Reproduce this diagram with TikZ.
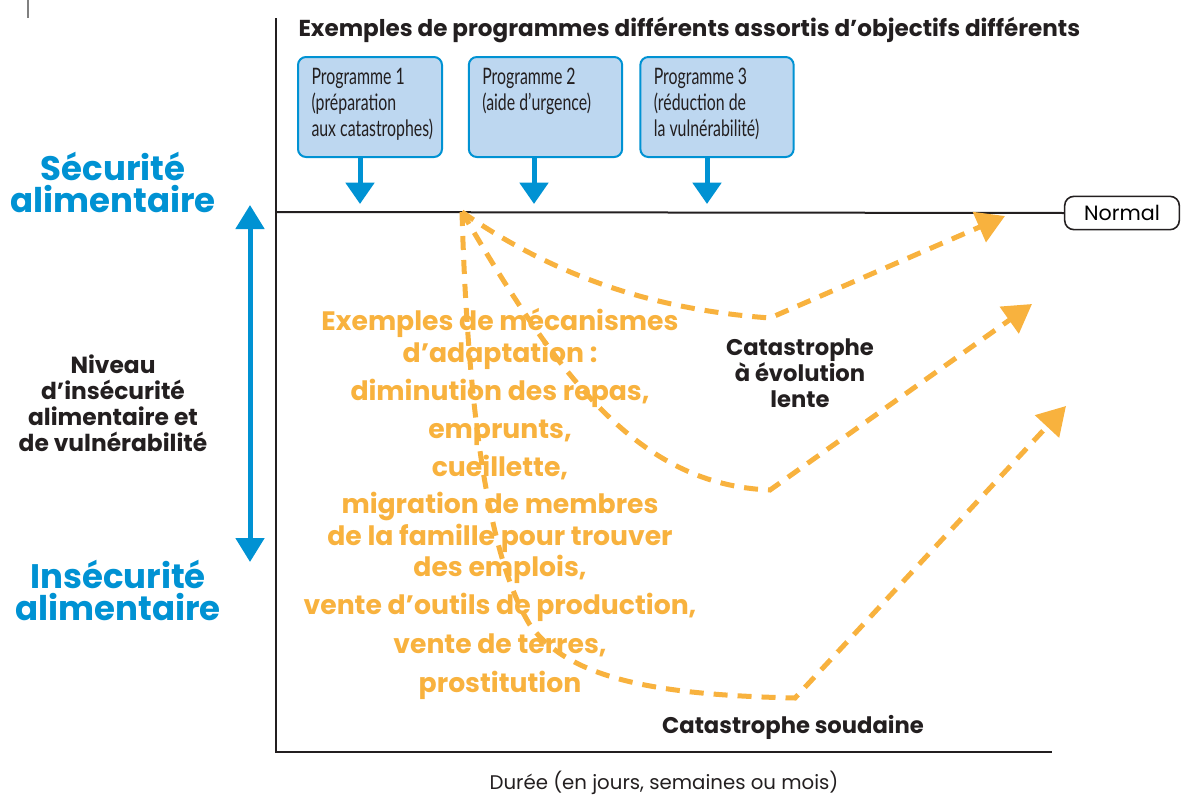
\documentclass[tikz,border=0pt]{standalone}
\usepackage{fontspec}
\setmainfont{Poppins}
\newfontfamily\condfont[FakeStretch=0.7]{Lato}
\usetikzlibrary{arrows.meta}

\definecolor{fsblue}{RGB}{0,146,211}
\definecolor{fsbox}{RGB}{189,215,240}
\definecolor{fsorange}{RGB}{248,178,62}
\definecolor{fsaxis}{RGB}{35,31,32}

\tikzset{every picture/.style={line width=0.75pt}}
\tikzset{
  progbox/.style={draw=fsblue, line width=1.5pt, fill=fsbox, rounded corners=6pt, minimum height=75pt, inner sep=0pt},
  progtext/.style={anchor=north west, inner sep=0pt, align=left, text=fsaxis, font=\condfont\fontsize{17}{19.5}\selectfont},
  downarrow/.style={draw=fsblue, line width=3.75pt, -{Triangle[length=16pt, width=21pt]}},
  levelarrow/.style={draw=fsblue, line width=3.75pt, {Triangle[length=18pt, width=21pt]}-{Triangle[length=18pt, width=21pt]}},
  copedash/.style={draw=fsorange, line width=3.75pt, dash pattern=on 10.5pt off 7.5pt, -{Triangle[length=21pt, width=24pt]}},
  mech/.style={anchor=base, inner sep=0pt, text=fsorange, font=\bfseries\fontsize{20}{22}\selectfont},
  bigblue/.style={inner sep=0pt, align=center, text=fsblue, font=\bfseries\fontsize{25.5}{24}\selectfont},
  darklabel/.style={inner sep=0pt, align=center, text=fsaxis, font=\bfseries\fontsize{17}{19.5}\selectfont}
}

\begin{document}
\begin{tikzpicture}[x=0.75pt,y=0.75pt,yscale=-1,xscale=1]
\useasboundingbox (0,0) rectangle (1185,796);

%Straight Lines (mark at top left)
\draw [draw=gray, line width=2pt] (28,0) -- (28,18) ;

%Axes
\coordinate (ytop) at (276,18);
\coordinate (origin) at (276,752);
\coordinate (xend) at (1052,752);
\draw [draw=fsaxis, line width=1.5pt] (ytop) -- (origin) -- (xend) ;

%Normal level
\node [draw=fsaxis, line width=1.2pt, rounded corners=7pt, minimum width=86pt, minimum height=25pt, inner sep=0pt, font=\fontsize{15.5}{17}\selectfont] (normal) at (1122,213) {Normal};
\coordinate (normal-start) at (276,212);
\draw [draw=fsaxis, line width=1.5pt] (normal-start) -- (normal.west) ;

% Text Node
\node [anchor=west, inner sep=0pt, text=fsaxis, font=\bfseries\fontsize{17.3}{19}\selectfont] (title) at (298,30) {Exemples de programmes différents assortis d’objectifs différents};

%Programme boxes
\node [progbox, minimum width=108pt] (prog1) at (370,107) {};
\node [progtext] (prog1-txt) at ([xshift=10.5pt,yshift=9pt]prog1.north west) {Programme 1\\(préparation\\aux catastrophes)};
\node [progbox, minimum width=115pt] (prog2) at (545.5,107) {};
\node [progtext] (prog2-txt) at ([xshift=10.5pt,yshift=9pt]prog2.north west) {Programme 2\\(aide d’urgence)};
\node [progbox, minimum width=115pt] (prog3) at (717,107) {};
\node [progtext] (prog3-txt) at ([xshift=10.5pt,yshift=9pt]prog3.north west) {Programme 3\\(réduction de\\la vulnérabilité)};

\coordinate (hit1) at (360,204);
\coordinate (hit2) at (534,204);
\coordinate (hit3) at (707,204);
\draw [downarrow] (prog1.south -| hit1) -- (hit1) ;
\draw [downarrow] (prog2.south -| hit2) -- (hit2) ;
\draw [downarrow] (prog3.south -| hit3) -- (hit3) ;

%Level arrow
\coordinate (lvl-top) at (250,205);
\coordinate (lvl-bot) at (250,562);
\draw [levelarrow] (lvl-top) -- (lvl-bot) ;

% Text Node
\node [bigblue] (secure) at (113,182) {Sécurité\\alimentaire};
% Text Node
\node [bigblue] (insecure) at (118,590) {Insécurité\\alimentaire};
% Text Node
\node [darklabel, font=\bfseries\fontsize{17.5}{19.5}\selectfont] (level) at (113,403) {Niveau\\d’insécurité\\alimentaire et\\de vulnérabilité};

%Coping curves
\coordinate (src) at (462,212);
\draw [copedash] (src) .. controls (560,280) and (660,310) .. (770,318) -- (1005,216) ;
\draw [copedash] (src) .. controls (560,380) and (640,485) .. (770,490) -- (1032,304) ;
\draw [copedash] (src) .. controls (468,420) and (490,560) .. (530,625) .. controls (570,680) and (660,695) .. (795,698) -- (1066,406) ;

%Coping mechanisms
\foreach \y/\txt [count=\i] in {330/{Exemples de mécanismes}, 362/{d’adaptation :}, 400/{diminution des repas,}, 438/{emprunts,}, 476/{cueillette,}, 513/{migration de membres}, 545/{de la famille pour trouver}, 576/{des emplois,}, 614/{vente d’outils de production,}, 653/{vente de terres,}, 692/{prostitution}}
  \node [mech] (mech-\i) at (500,\y) {\txt};

% Text Node
\node [darklabel] (slow) at (800,373) {Catastrophe\\à évolution\\lente};
% Text Node
\node [darklabel] (sudden) at (793,727) {Catastrophe soudaine};
% Text Node
\node [inner sep=0pt, text=fsaxis, font=\fontsize{14.8}{16}\selectfont] (duration) at (664,783) {Durée (en jours, semaines ou mois)};

\end{tikzpicture}
\end{document}
